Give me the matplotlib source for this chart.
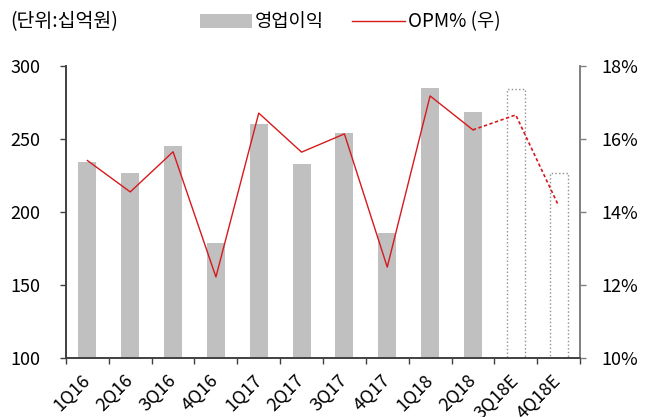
import numpy as np
import matplotlib.pyplot as plt
from matplotlib.lines import Line2D
from matplotlib.patches import Patch

plt.rcParams['font.family'] = ['Noto Sans CJK KR', 'DejaVu Sans']

# 데이터
quarters = ['1Q16', '2Q16', '3Q16', '4Q16', '1Q17', '2Q17', '3Q17', '4Q17',
            '1Q18', '2Q18', '3Q18E', '4Q18E']
op_profit = [234.5, 226.5, 245, 178.5, 260.5, 233, 254, 185.5, 285, 268.5, 284, 226.5]
opm = [15.41, 14.55, 15.65, 12.22, 16.71, 15.64, 16.14, 12.49, 17.18, 16.25, 16.66, 14.17]
n_actual = 10

bar_gray = '#c0c0c0'
line_red = '#d7191c'
dark_gray = '#404040'
mid_gray = '#808080'

fig = plt.figure(figsize=(6.51, 4.17), dpi=100)
ax = fig.add_axes([66 / 651, 1 - 358 / 417, 514 / 651, 292 / 417])
ax2 = ax.twinx()

x = np.arange(len(quarters))

# 막대
ax.bar(x[:n_actual], op_profit[:n_actual], width=0.42, color=bar_gray, zorder=2)
ax.bar(x[n_actual:], op_profit[n_actual:], width=0.42, facecolor='white',
       edgecolor='#909090', linestyle=':', linewidth=1.0, zorder=2)

# OPM 선
ax2.plot(x[:n_actual], opm[:n_actual], color=line_red, linewidth=1.0)
ax2.plot(x[n_actual - 1:], opm[n_actual - 1:], color=line_red, linewidth=1.2,
         linestyle=(0, (2, 1.5)))

ax.set_xlim(-0.5, len(quarters) - 0.5)
ax.set_ylim(100, 300)
ax.set_yticks([100, 150, 200, 250, 300])
ax2.set_ylim(10, 18)
ax2.set_yticks([10, 12, 14, 16, 18])
ax2.set_yticklabels(['%d%%' % v for v in [10, 12, 14, 16, 18]])

ax.set_xticks(x)
ax.set_xticklabels(quarters, rotation=45, ha='right', va='center',
                   rotation_mode='anchor')
ax.set_xticks(np.arange(-0.5, len(quarters)), minor=True)
ax.tick_params(axis='x', which='major', length=0, pad=14, labelsize=13)
ax.tick_params(axis='x', which='minor', length=4.3, color=dark_gray, width=1)
ax.tick_params(axis='y', length=4.3, color=dark_gray, width=1, labelsize=13, pad=14)
ax2.tick_params(axis='y', length=4.3, color=mid_gray, width=1, labelsize=13, pad=11)

for a in (ax, ax2):
    a.spines['top'].set_visible(False)
    a.spines['left'].set_color(dark_gray)
    a.spines['bottom'].set_color(dark_gray)
    a.spines['right'].set_color(mid_gray)
    for s in ('left', 'right', 'bottom'):
        a.spines[s].set_linewidth(1.2)

# 범례
handles = [Patch(facecolor=bar_gray, edgecolor='none'),
           Line2D([], [], color=line_red, linewidth=1.0)]
fig.legend(handles, ['영업이익', 'OPM% (우)'], loc='center', ncol=2,
           bbox_to_anchor=(350 / 651, 1 - 22 / 417), frameon=False, fontsize=13.5,
           handlelength=2.8, handleheight=0.85, handletextpad=0.15,
           columnspacing=1.5)
fig.text(10 / 651, 1 - 22 / 417, '(단위:십억원)', fontsize=14, va='center', ha='left')

fig.savefig('out.png', dpi=100)
